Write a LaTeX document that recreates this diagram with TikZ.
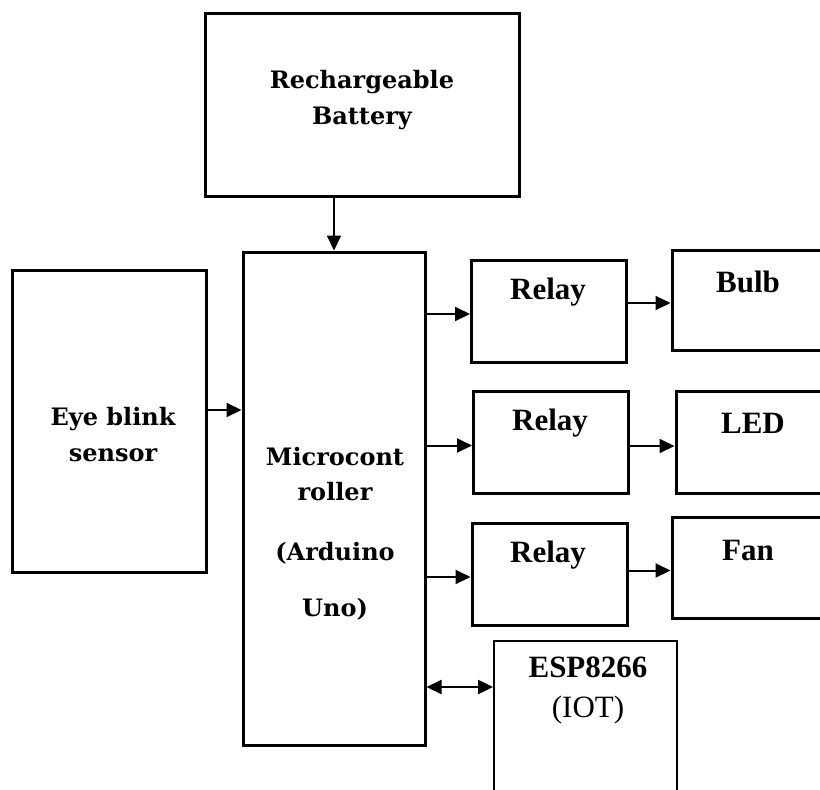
\documentclass[tikz,border=0pt]{standalone}
\usepackage{fontspec}
\setmainfont{Liberation Serif}
\newfontfamily\slabfont{DejaVu Serif}
\usetikzlibrary{arrows.meta}
\tikzset{
  blk/.style={draw, line width=3pt, inner sep=0pt},
  slab/.style={font=\slabfont\bfseries\fontsize{24}{36}\selectfont, align=center, inner sep=0pt},
  tms/.style={font=\bfseries\fontsize{31}{40}\selectfont, align=center, inner sep=0pt},
  arr/.style={line width=2pt, -{Triangle[length=15pt,width=14pt]}},
}

\begin{document}
\begin{tikzpicture}[x=1pt,y=-1pt]
        \useasboundingbox (0,0) rectangle (820,790);
        \clip (0,0) rectangle (820,790);

        % boxes
        \node[blk, minimum width=314pt, minimum height=183pt] (batt) at (362,104.5) {};
        \node[blk, minimum width=182pt, minimum height=493pt] (micro) at (334,498.5) {};
        \node[blk, minimum width=194pt, minimum height=302pt] (eye) at (109,421) {};
        \node[blk, minimum width=155pt, minimum height=102pt] (relayA) at (549,311) {};
        \node[blk, minimum width=155pt, minimum height=102pt] (relayB) at (551,442.5) {};
        \node[blk, minimum width=155pt, minimum height=102pt] (relayC) at (549.5,574) {};
        \node[blk, minimum width=170pt, minimum height=100pt] (bulb) at (757,300) {};
        \node[blk, minimum width=170pt, minimum height=102pt] (led) at (761,442) {};
        \node[blk, minimum width=170pt, minimum height=101pt] (fan) at (757,567.5) {};
        \node[draw, line width=1.8pt, minimum width=183pt, minimum height=154pt] (esp) at (585.5,718) {};

        % texts
        \node[slab] (battTxt) at (362,100) {Rechargeable\\Battery};
        \node[slab] (eyeTxt) at (113,435) {Eye blink\\sensor};
        \node[slab, font=\slabfont\bfseries\fontsize{24}{35}\selectfont] (microTxt) at (335,534)
          {Microcont\\roller\\[25pt](Arduino\\[21pt]Uno)};
        \node[tms] (relayAtxt) at (548,292) {Relay};
        \node[tms] (relayBtxt) at (550,423) {Relay};
        \node[tms] (relayCtxt) at (548,555) {Relay};
        \node[tms] (bulbTxt) at (748,282) {Bulb};
        \node[tms] (ledTxt) at (753,423) {LED};
        \node[tms] (fanTxt) at (748,550) {Fan};
        \node[tms] (espTxt) at (588,690) {ESP8266\\\mdseries(IOT)};

        % connectors
        \draw[arr] (batt.south -| micro.north) -- (micro.north);
        \draw[arr] ([yshift=11pt]eye.east) -- ([yshift=11pt]eye.east -| micro.west);
        \draw[arr] ([yshift=-3pt]relayA.west -| micro.east) -- ([yshift=-3pt]relayA.west);
        \draw[arr] ([yshift=-3pt]relayB.west -| micro.east) -- ([yshift=-3pt]relayB.west);
        \draw[arr] ([yshift=-3pt]relayC.west -| micro.east) -- ([yshift=-3pt]relayC.west);
        \draw[arr] ([yshift=-3pt]bulb.west -| relayA.east) -- ([yshift=-3pt]bulb.west);
        \draw[arr] ([yshift=-4pt]led.west -| relayB.east) -- ([yshift=-4pt]led.west);
        \draw[arr] ([yshift=-3pt]fan.west -| relayC.east) -- ([yshift=-3pt]fan.west);
        \draw[arr, {Triangle[length=15pt,width=14pt]}-{Triangle[length=15pt,width=14pt]}]
          ([yshift=31pt]esp.west -| micro.east) -- ([yshift=31pt]esp.west);
      \end{tikzpicture}
\end{document}
